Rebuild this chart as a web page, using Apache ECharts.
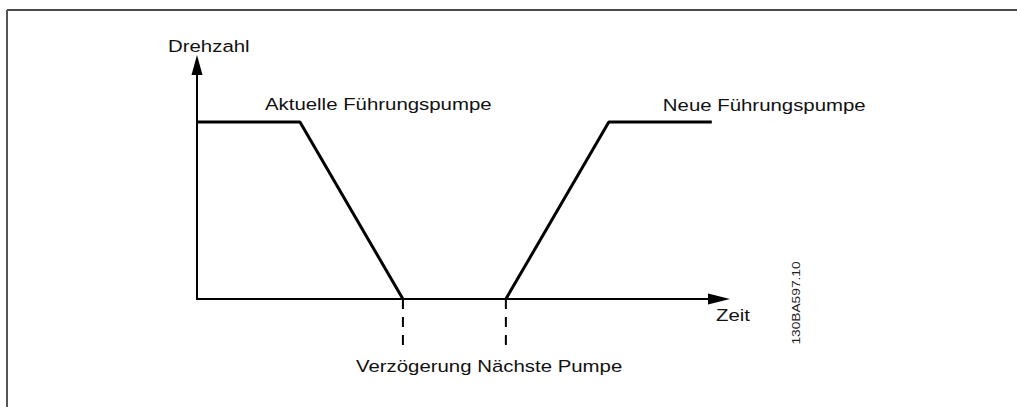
<!DOCTYPE html>
<html><head><meta charset="utf-8">
<script src="https://cdn.jsdelivr.net/npm/echarts@6/dist/echarts.min.js"></script>
<style>html,body{margin:0;padding:0;background:#fff}#c{width:1017px;height:407px}</style>
</head><body><div id="c"></div>
<script>
// Data (time units, relative speed)
const currentPumpTime = [0, 1, 2];
const currentPumpSpeed = [1, 1, 0];
const nextPumpTime = [3, 4, 5];
const nextPumpSpeed = [0, 1, 1];
const delayTimes = [2, 3];
const delayDepth = -0.3;
const axisNames = ['Zeit', 'Drehzahl'];
const seriesNames = ['Aktuelle Führungspumpe', 'Neue Führungspumpe'];
const delayLabel = 'Verzögerung Nächste Pumpe';
const docCode = '130BA597.10';

const xMax = 5.07, yMax = 1.322;
const FONT = '17px "Liberation Sans", Arial, sans-serif';
const STRETCH = 1.2;

const zip = (xs, ys) => xs.map((x, i) => [x, ys[i]]);

const option = {
  animation: false,
  backgroundColor: '#fff',
  grid: { left: 197, right: 1017 - 719, top: 65, bottom: 108 },
  xAxis: {
    type: 'value', min: 0, max: xMax,
    axisLine: { show: true, onZero: false, symbol: ['none', 'triangle'], symbolSize: [11, 22],
      lineStyle: { color: '#000', width: 2 } },
    axisTick: { show: false }, axisLabel: { show: false }, splitLine: { show: false }
  },
  yAxis: {
    type: 'value', min: 0, max: yMax,
    axisLine: { show: true, onZero: false, symbol: ['none', 'triangle'], symbolSize: [11, 20],
      lineStyle: { color: '#000', width: 2 } },
    axisTick: { show: false }, axisLabel: { show: false }, splitLine: { show: false }
  },
  series: [
    { name: seriesNames[0], type: 'line', data: zip(currentPumpTime, currentPumpSpeed), symbol: 'none', clip: false,
      lineStyle: { color: '#000', width: 3 } },
    { name: seriesNames[1], type: 'line', data: zip(nextPumpTime, nextPumpSpeed), symbol: 'none', clip: false,
      lineStyle: { color: '#000', width: 3 } }
  ].concat(delayTimes.map(t => ({
    type: 'line', data: [[t, 0], [t, delayDepth]], symbol: 'none', clip: false,
    lineStyle: { color: '#000', width: 2, type: [10, 8] }
  })))
};

const chart = echarts.init(document.getElementById('c'), null, { renderer: 'svg' });
chart.setOption(option);
const px = p => chart.convertToPixel({ gridIndex: 0 }, p);

function label(text, anchor, dx, dy, extra) {
  const p = px(anchor);
  return Object.assign({
    type: 'text', x: p[0] + dx, y: p[1] + dy, scaleX: STRETCH,
    style: { text: text, font: FONT, fill: '#111', align: 'left', verticalAlign: 'middle' }
  }, extra || {});
}

const end = px([xMax, 0]);
chart.setOption({
  graphic: [
    { type: 'line', shape: { x1: 7, y1: 10, x2: 1017, y2: 10 }, style: { stroke: '#111', lineWidth: 1.5 } },
    { type: 'line', shape: { x1: 7, y1: 10, x2: 7, y2: 407 }, style: { stroke: '#555', lineWidth: 2 } },
    label(axisNames[1], [0, yMax], -29, -19),
    label(seriesNames[0], [currentPumpTime[1], currentPumpSpeed[1]], -35, -18),
    label(seriesNames[1], [nextPumpTime[1], nextPumpSpeed[1]], 54, -17),
    label(delayLabel, [delayTimes[0], 0], -47, 67),
    label(axisNames[0], [xMax, 0], -3, 16),
    {
      type: 'text', x: end[0] + 77, y: end[1] + 4, rotation: Math.PI / 2, scaleX: 1.25,
      style: { text: docCode, font: '11px "Liberation Sans", Arial, sans-serif', fill: '#222',
        align: 'center', verticalAlign: 'middle' }
    }
  ]
});
</script>
</body></html>
